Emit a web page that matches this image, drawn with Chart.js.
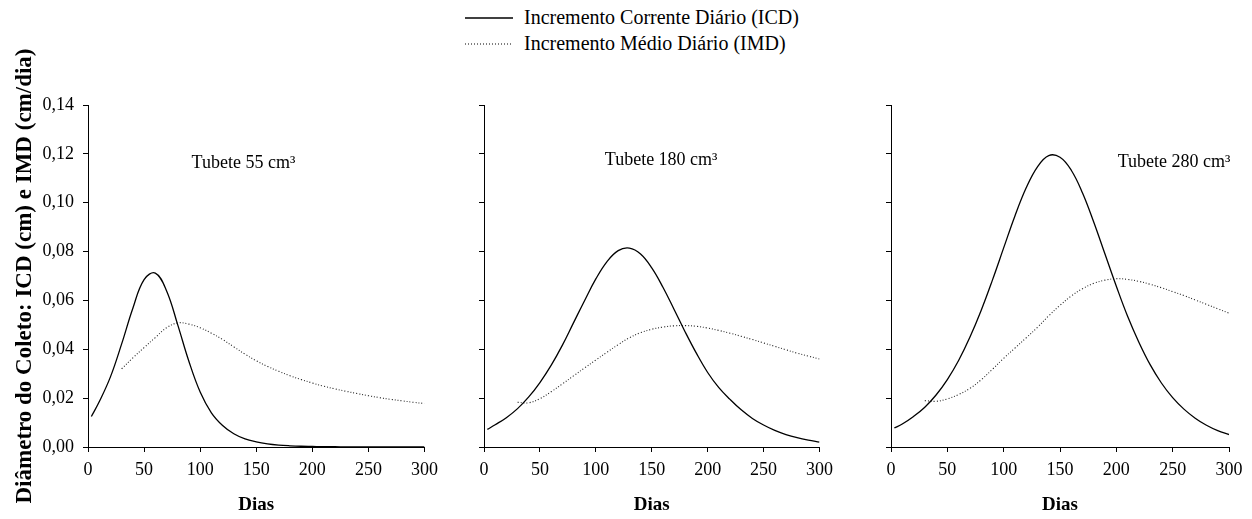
<!DOCTYPE html>
<html>
<head>
<meta charset="utf-8">
<script src="https://cdn.jsdelivr.net/npm/chart.js@4.4.0/dist/chart.umd.min.js"></script>
<style>
  html, body { margin: 0; padding: 0; background: #fff; }
  #wrap { position: relative; width: 1252px; height: 519px; overflow: hidden; font-family: "Liberation Serif", "Times New Roman", serif; }
  canvas { position: absolute; top: 0; }
  #c1 { left: 0px; }
  #c2 { left: 450px; }
  #c3 { left: 855px; }
  .leg { position: absolute; left: 465px; font-size: 20px; color: #000; display: flex; align-items: center; white-space: nowrap; }
  .leg svg { margin-right: 11px; }
</style>
</head>
<body>
<div id="wrap">
  <div class="leg" style="top:6px"><svg width="48" height="4"><line x1="0" y1="2" x2="48" y2="2" stroke="#000" stroke-width="1.3"/></svg>Incremento Corrente Diário (ICD)</div>
  <div class="leg" style="top:32px"><svg width="48" height="4"><line x1="0" y1="2" x2="48" y2="2" stroke="#000" stroke-width="1" stroke-dasharray="1 2"/></svg>Incremento Médio Diário (IMD)</div>
  <canvas id="c1" width="445" height="519"></canvas>
  <canvas id="c2" width="390" height="519"></canvas>
  <canvas id="c3" width="395" height="519"></canvas>
</div>
<script>
// days where each curve is sampled
const icdDays = [3, 10, 20, 30, 40, 50, 60, 70, 80, 90, 100, 110, 120, 130, 140, 150,
  160, 170, 180, 190, 200, 210, 220, 230, 240, 250, 260, 270, 280, 290, 300];
const imdDays = [30, 40, 50, 60, 70, 80, 90, 100, 110, 120, 130, 140, 150,
  160, 170, 180, 190, 200, 210, 220, 230, 240, 250, 260, 270, 280, 290, 300];

// Tubete 55 cm³
const icd55 = [0.0125, 0.0185, 0.0287, 0.0422, 0.0568, 0.0685, 0.0712, 0.0640, 0.0500, 0.0350, 0.0225,
  0.0140, 0.0088, 0.0054, 0.0033, 0.0021, 0.0013, 0.0008, 0.0005, 0.0003, 0.0002, 0.0001, 0.0001,
  0, 0, 0, 0, 0, 0, 0, 0];
const imd55 = [0.0320, 0.0365, 0.0407, 0.0448, 0.0488, 0.0508, 0.0503, 0.0488, 0.0466, 0.0440, 0.0410,
  0.0380, 0.0353, 0.0330, 0.0310, 0.0292, 0.0276, 0.0262, 0.0249, 0.0238, 0.0228, 0.0219, 0.0210,
  0.0202, 0.0195, 0.0189, 0.0183, 0.0178];

// Tubete 180 cm³
const icd180 = [0.0072, 0.0091, 0.0120, 0.0157, 0.0205, 0.0264, 0.0334, 0.0416, 0.0508, 0.0600, 0.0688,
  0.0759, 0.0804, 0.0814, 0.0790, 0.0733, 0.0654, 0.0563, 0.0470, 0.0383, 0.0305, 0.0243, 0.0195,
  0.0152, 0.0117, 0.0090, 0.0068, 0.0051, 0.0038, 0.0028, 0.0020];
const imd180 = [0.0183, 0.0181, 0.0198, 0.0226, 0.0258, 0.0291, 0.0324, 0.0356, 0.0388, 0.0419, 0.0447,
  0.0468, 0.0482, 0.0491, 0.0496, 0.0497, 0.0494, 0.0487, 0.0477, 0.0466, 0.0453, 0.0440, 0.0426,
  0.0412, 0.0398, 0.0384, 0.0372, 0.0360];

// Tubete 280 cm³
const icd280 = [0.0078, 0.0094, 0.0125, 0.0163, 0.0213, 0.0276, 0.0354, 0.0449, 0.0559, 0.0683, 0.0815,
  0.0946, 0.1061, 0.1147, 0.1193, 0.1186, 0.1133, 0.1040, 0.0920, 0.0789, 0.0658, 0.0535, 0.0429,
  0.0337, 0.0262, 0.0202, 0.0155, 0.0118, 0.0089, 0.0067, 0.0051];
const imd280 = [0.0190, 0.0187, 0.0197, 0.0215, 0.0240, 0.0275, 0.0318, 0.0363, 0.0405, 0.0447, 0.0490,
  0.0537, 0.0580, 0.0618, 0.0648, 0.0670, 0.0683, 0.0689, 0.0686, 0.0678, 0.0666, 0.0652, 0.0636,
  0.0620, 0.0602, 0.0584, 0.0566, 0.0548];

const panelLabels = ["Tubete 55 cm³", "Tubete 180 cm³", "Tubete 280 cm³"];
const xTicks = [0, 50, 100, 150, 200, 250, 300];
const yTicks = [0, 0.02, 0.04, 0.06, 0.08, 0.10, 0.12, 0.14];

const FONT = "'Liberation Serif', 'Times New Roman', serif";
Chart.defaults.font.family = FONT;
Chart.defaults.color = "#000";

const toPts = (xs, ys) => xs.map((x, i) => ({ x: x, y: ys[i] }));

// writes the "Tubete" label inside the plot
const panelLabelPlugin = {
  id: "panelLabel",
  afterDatasetsDraw(chart, args, opts) {
    const { ctx, scales } = chart;
    ctx.save();
    ctx.font = "18px " + FONT;
    ctx.fillStyle = "#000";
    ctx.textAlign = "center";
    ctx.textBaseline = "middle";
    ctx.fillText(opts.text, scales.x.getPixelForValue(opts.x), scales.y.getPixelForValue(opts.y));
    ctx.restore();
  }
};

function makePanel(id, icd, imd, label, pos, first, yWidth, padRight) {
  new Chart(document.getElementById(id), {
    type: "line",
    data: {
      datasets: [
        {
          label: "Incremento Corrente Diário (ICD)",
          data: toPts(icdDays, icd),
          borderColor: "#000",
          borderWidth: 1.3,
          pointRadius: 0,
          tension: 0.4
        },
        {
          label: "Incremento Médio Diário (IMD)",
          data: toPts(imdDays, imd),
          borderColor: "#222",
          borderWidth: 1.1,
          borderDash: [1, 2],
          pointRadius: 0,
          tension: 0.4
        }
      ]
    },
    options: {
      responsive: false,
      animation: false,
      layout: { padding: { top: 105, left: 0, right: padRight, bottom: 0 } },
      plugins: {
        legend: { display: false },
        tooltip: { enabled: false },
        panelLabel: { text: label, x: pos[0], y: pos[1] }
      },
      scales: {
        x: {
          type: "linear",
          min: 0,
          max: 300,
          afterBuildTicks: s => { s.ticks = xTicks.map(v => ({ value: v })); },
          afterFit: s => { s.height = 72; },
          grid: { drawOnChartArea: false, drawTicks: true, tickLength: 5, color: "#000" },
          border: { display: true, color: "#000", width: 1 },
          ticks: { font: { size: 18 }, padding: 7, maxRotation: 0 },
          title: { display: true, text: "Dias", font: { size: 19, weight: "bold" }, padding: { top: 0, bottom: 3 } }
        },
        y: {
          type: "linear",
          min: 0,
          max: 0.14,
          afterBuildTicks: s => { s.ticks = yTicks.map(v => ({ value: v })); },
          afterFit: s => { s.width = yWidth; },
          grid: { drawOnChartArea: false, drawTicks: true, tickLength: 5, color: "#000" },
          border: { display: true, color: "#000", width: 1 },
          ticks: {
            display: first,
            font: { size: 18 },
            padding: 9,
            callback: v => v.toFixed(2).replace(".", ",")
          },
          title: {
            display: first,
            text: "Diâmetro do Coleto: ICD (cm) e IMD (cm/dia)",
            font: { size: 23, weight: "bold" },
            padding: { top: 11, bottom: 0 }
          }
        }
      }
    },
    plugins: [panelLabelPlugin]
  });
}

makePanel("c1", icd55, imd55, panelLabels[0], [138.6, 0.1163], true, 88, 15);
makePanel("c2", icd180, imd180, panelLabels[1], [158.4, 0.1175], false, 34, 17);
makePanel("c3", icd280, imd280, panelLabels[2], [251.2, 0.1167], false, 36, 21);
</script>
</body>
</html>
